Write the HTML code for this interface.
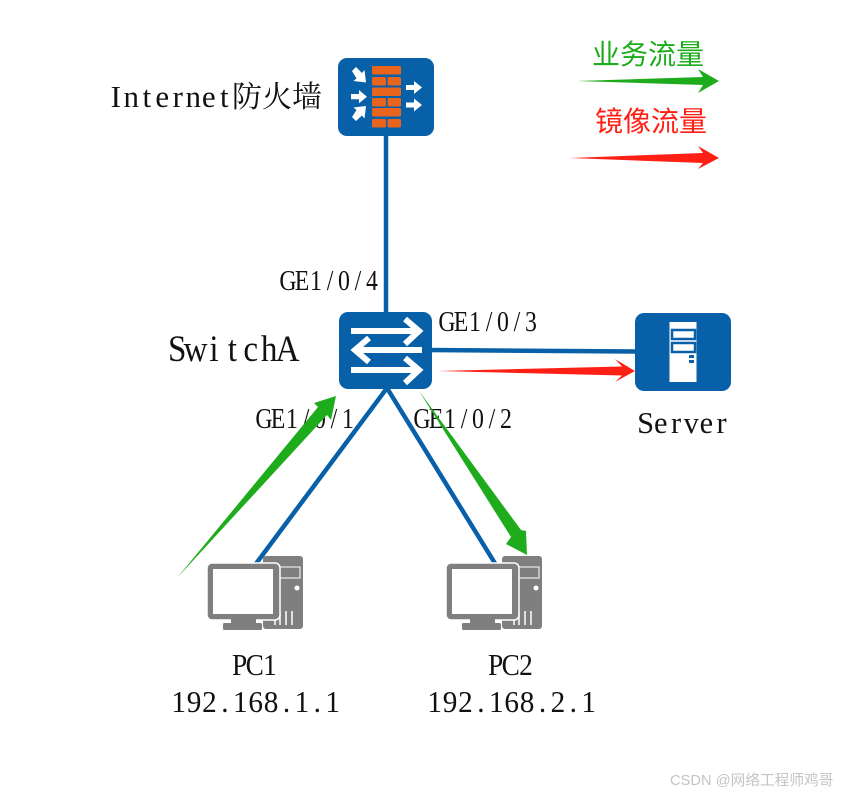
<!DOCTYPE html>
<html><head><meta charset="utf-8"><style>
html,body{margin:0;padding:0;background:#fff}
svg{display:block}
.m{font-family:"Liberation Serif",serif;fill:#111;text-anchor:middle}
.z{font-family:"Liberation Serif","Noto Serif CJK SC",serif;fill:#111}
.c{font-family:"Liberation Sans","Noto Sans CJK SC",sans-serif}
</style></head><body>
<svg width="846" height="795" viewBox="0 0 846 795" xmlns="http://www.w3.org/2000/svg">
<!-- links -->
<g stroke="#0860a8" stroke-width="4.500" fill="none" stroke-linecap="round">
<line x1="386" y1="130" x2="386" y2="315"/>
<line x1="428" y1="350" x2="640" y2="351.500"/>
<line x1="387" y1="388" x2="255" y2="565"/>
<line x1="387" y1="388" x2="496" y2="565"/>
</g>
<!-- firewall -->
<rect x="338" y="58" width="96" height="78" rx="9" fill="#0860a8"/>
<g fill="#e9651e">
<rect x="372" y="66" width="29" height="8.500" rx="1.500"/>
<rect x="372" y="77" width="14" height="8.500" rx="1.500"/><rect x="387.500" y="77" width="13.500" height="8.500" rx="1.500"/>
<rect x="372" y="87.500" width="29" height="8.500" rx="1.500"/>
<rect x="372" y="98" width="14" height="8.500" rx="1.500"/><rect x="387.500" y="98" width="13.500" height="8.500" rx="1.500"/>
<rect x="372" y="108" width="29" height="8.500" rx="1.500"/>
<rect x="372" y="119" width="14" height="8.500" rx="1.500"/><rect x="387.500" y="119" width="13.500" height="8.500" rx="1.500"/>
</g>
<g fill="#fff">
<path d="M351 94h8v-4l8 6.700-8 6.500v-4h-8z"/>
<path d="M406 85h8v-4l8 6.500-8 6.500v-4h-8z"/>
<path d="M406 102.500h8v-4l8 6.500-8 6.500v-4h-8z"/>
<path d="M352 71l4-4 6 6 2.500-3 1.500 12.500-12.500-1.500 3-2.500z"/>
<path d="M352 117l4 4 6-5.500 2.500 3 1.500-12.500-12.500 1.500 3 2.500z"/>
</g>
<!-- switch -->
<rect x="339" y="312" width="93" height="77" rx="9" fill="#0860a8"/>
<g stroke="#fff" stroke-width="6" fill="none">
<line x1="351" y1="331" x2="418" y2="331"/><polyline points="405,319 419,331 405,344"/>
<line x1="422" y1="350" x2="355" y2="350"/><polyline points="369,338 355,350 369,362"/>
<line x1="351" y1="370" x2="418" y2="370"/><polyline points="405,358 419,370 405,383"/>
</g>
<!-- server -->
<rect x="635" y="313" width="96" height="78" rx="9" fill="#0860a8"/>
<rect x="669.500" y="322" width="27" height="60" fill="#fff"/>
<rect x="672" y="330" width="23" height="9" fill="#fff" stroke="#0860a8" stroke-width="2.500"/>
<rect x="672" y="343" width="23" height="9" fill="#fff" stroke="#0860a8" stroke-width="2.500"/>
<rect x="689" y="355" width="5" height="3" fill="#0860a8"/>
<rect x="689" y="360" width="5" height="3" fill="#0860a8"/>
<!-- PCs -->
<g>
<rect x="263" y="556" width="40" height="73" rx="3" fill="#7f7f7f"/>
<rect x="279" y="567" width="21" height="11" fill="#7f7f7f" stroke="#fff" stroke-width="1"/>
<circle cx="297" cy="588" r="2.500" fill="#fff"/>
<path d="M286 611v14M292 611v14M275 615v10M280 612v13" stroke="#fff" stroke-width="1.500"/>
<rect x="207" y="563" width="73" height="57" rx="5" fill="#7f7f7f" stroke="#fff" stroke-width="1.500"/>
<rect x="213" y="569" width="60" height="45" fill="#fff"/>
<rect x="231" y="619" width="25" height="4" fill="#7f7f7f"/>
<rect x="223" y="623" width="39" height="7" rx="1.500" fill="#7f7f7f"/>
</g>
<g transform="translate(239,0)">
<rect x="263" y="556" width="40" height="73" rx="3" fill="#7f7f7f"/>
<rect x="279" y="567" width="21" height="11" fill="#7f7f7f" stroke="#fff" stroke-width="1"/>
<circle cx="297" cy="588" r="2.500" fill="#fff"/>
<path d="M286 611v14M292 611v14M275 615v10M280 612v13" stroke="#fff" stroke-width="1.500"/>
<rect x="207" y="563" width="73" height="57" rx="5" fill="#7f7f7f" stroke="#fff" stroke-width="1.500"/>
<rect x="213" y="569" width="60" height="45" fill="#fff"/>
<rect x="231" y="619" width="25" height="4" fill="#7f7f7f"/>
<rect x="223" y="623" width="39" height="7" rx="1.500" fill="#7f7f7f"/>
</g>
<!-- labels -->
<text class="m" transform="translate(108,107)" font-size="31" x=".25em .75em 1.25em 1.75em 2.25em 2.75em 3.25em 3.75em">Internet</text>
<text class="z" x="232" y="107" font-size="30">防火墙</text>
<text class="m" transform="translate(168,361) scale(.9,1)" font-size="36.800" x=".278em .833em 1.389em 1.944em 2.5em 3.056em 3.611em">SwitchA</text>
<text class="m" transform="translate(281,290) scale(.85,1)" font-size="28" x=".294em .882em 1.471em 2.059em 2.647em 3.235em 3.824em">GE1/0/4</text>
<text class="m" transform="translate(440,331) scale(.85,1)" font-size="28" x=".294em .882em 1.471em 2.059em 2.647em 3.235em 3.824em">GE1/0/3</text>
<text class="m" transform="translate(257,428) scale(.85,1)" font-size="28" x=".294em .882em 1.471em 2.059em 2.647em 3.235em 3.824em">GE1/0/1</text>
<text class="m" transform="translate(415,428) scale(.85,1)" font-size="28" x=".294em .882em 1.471em 2.059em 2.647em 3.235em 3.824em">GE1/0/2</text>
<text class="m" transform="translate(638,433)" font-size="30.400" x=".25em .75em 1.25em 1.75em 2.25em 2.75em">Server</text>
<text class="m" transform="translate(232,675) scale(.9,1)" font-size="30.400" x=".278em .833em 1.389em">PC1</text>
<text class="m" transform="translate(171,712) scale(.95,1)" font-size="30.800" x=".263em .789em 1.316em 1.842em 2.368em 2.895em 3.421em 3.947em 4.474em 5em 5.526em">192.168.1.1</text>
<text class="m" transform="translate(488,675) scale(.9,1)" font-size="30.400" x=".278em .833em 1.389em">PC2</text>
<text class="m" transform="translate(427,712) scale(.95,1)" font-size="30.800" x=".263em .789em 1.316em 1.842em 2.368em 2.895em 3.421em 3.947em 4.474em 5em 5.526em">192.168.2.1</text>
<text class="c" x="592" y="64" font-size="28" fill="#1fac1c">业务流量</text>
<text class="c" x="595" y="131" font-size="28" fill="#ff2015">镜像流量</text>
<text class="c" x="670" y="785" font-size="14.700" fill="#c4c4c4">CSDN @网络工程师鸡哥</text>
<!-- arrows -->
<polygon points="177,578 318,407 314,403 336,396 331,420 327,415" fill="#1fac1c"/>
<polygon points="419,391 511,537 506,544 527,555 526,531 521,530" fill="#1fac1c"/>
<polygon points="438,371 622,366.500 615,359 635,371 615,382 622,375.500" fill="#ff2015"/>
<polygon points="577,81 703,77 698,69 719,81 698,93 703,85" fill="#1fac1c"/>
<polygon points="570,158 703,153 698,146 719,158 698,169 703,163" fill="#ff2015"/>
</svg>
</body></html>
